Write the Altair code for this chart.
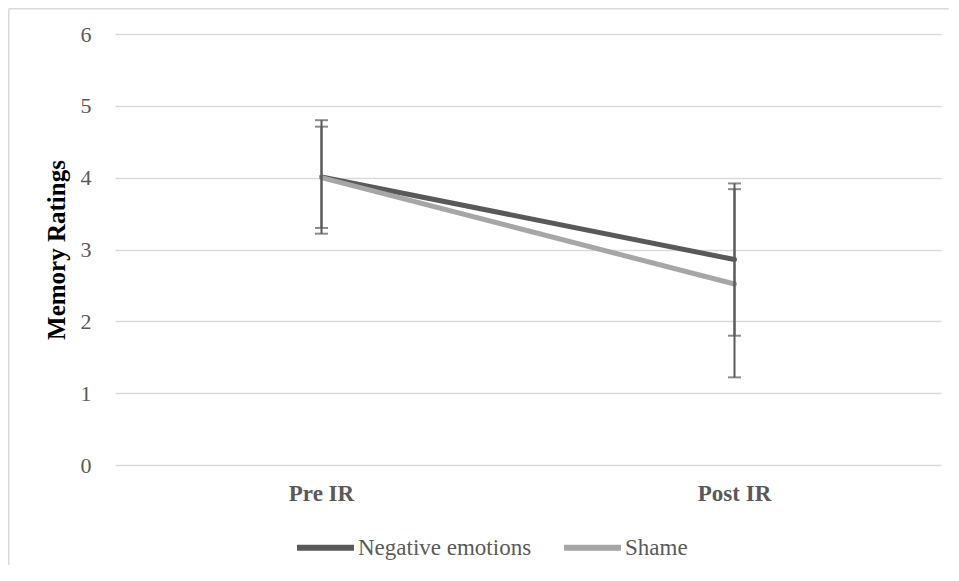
import altair as alt
import pandas as pd

phases = ["Pre IR", "Post IR"]
series = ["Negative emotions", "Shame"]
neg_mean = [4.01, 2.86]
neg_hi = [4.80, 3.92]
neg_lo = [3.22, 1.80]
shame_mean = [4.00, 2.52]
shame_hi = [4.71, 3.84]
shame_lo = [3.30, 1.22]

rows = []
for i, p in enumerate(phases):
    rows.append(dict(series=series[0], phase=p, mean=neg_mean[i], lo=neg_lo[i], hi=neg_hi[i]))
for i, p in enumerate(phases):
    rows.append(dict(series=series[1], phase=p, mean=shame_mean[i], lo=shame_lo[i], hi=shame_hi[i]))
df = pd.DataFrame(rows)

W, H = 826, 431
PL, PT, PR, PB = 107, 26, 8, 100

xscale = alt.Scale(domain=phases, paddingInner=0, paddingOuter=0)
xaxis = alt.Axis(labelAngle=0, labelFont="Liberation Serif", labelFontSize=23,
                 labelFontWeight="bold", labelColor="#595959", labelPadding=17,
                 ticks=False, domain=False, grid=False, title=None)
yscale = alt.Scale(domain=[0, 6])
yaxis = alt.Axis(values=[0, 1, 2, 3, 4, 5, 6], format="d", title="Memory Ratings",
                 titleFont="Liberation Serif", titleFontSize=25, titleFontWeight="bold",
                 titleColor="#000000", titlePadding=11,
                 labelFont="Liberation Serif", labelFontSize=22, labelColor="#595959",
                 labelPadding=24, ticks=False, domain=False,
                 grid=True, gridColor="#d9d9d9", gridWidth=1.3)

color = alt.Color("series:N", scale=alt.Scale(domain=series, range=["#595959", "#a6a6a6"]),
                  legend=alt.Legend(title=None, orient="none", direction="horizontal",
                                    legendX=179, legendY=482, padding=0,
                                    symbolType="stroke", symbolSize=3249, symbolStrokeWidth=6,
                                    labelFont="Liberation Serif", labelFontSize=23,
                                    labelColor="#595959", labelOffset=1, columnPadding=20,
                                    labelLimit=400))

one = pd.DataFrame({"a": [0]})
frame_top = alt.Chart(one).mark_rule(stroke="#d9d9d9", strokeWidth=1.5, clip=False).encode(
    x=alt.value(-PL + 0.75), x2=alt.value(W + PR + 5), y=alt.value(-PT + 0.75))
frame_left = alt.Chart(one).mark_rule(stroke="#d9d9d9", strokeWidth=1.5, clip=False).encode(
    x=alt.value(-PL + 0.75), y=alt.value(-PT + 0.75), y2=alt.value(H + PB + 5))

base = alt.Chart(df)
X = alt.X("phase:N", scale=xscale, axis=xaxis)

lines = base.mark_line(strokeWidth=5, strokeCap="round").encode(
    x=X, y=alt.Y("mean:Q", scale=yscale, axis=yaxis), color=color,
    order=alt.Order("phase:N", sort="descending"),
    detail="series:N")

bars = base.mark_rule(color="#595959", strokeWidth=2).encode(
    x=X, y=alt.Y("lo:Q", scale=yscale, axis=yaxis), y2="hi:Q")
caps_hi = base.mark_tick(color="#595959", size=13, thickness=2).encode(
    x=X, y=alt.Y("hi:Q", scale=yscale, axis=yaxis))
caps_lo = base.mark_tick(color="#595959", size=13, thickness=2).encode(
    x=X, y=alt.Y("lo:Q", scale=yscale, axis=yaxis))

chart = alt.layer(frame_top, frame_left, lines, bars, caps_hi, caps_lo).properties(
    width=W, height=H,
    autosize=alt.AutoSizeParams(type="none"),
    padding={"left": PL, "top": PT, "right": PR, "bottom": PB},
).configure(background="white").configure_view(stroke=None)

chart.save("out.html", embed_options={"renderer": "svg", "actions": False})
